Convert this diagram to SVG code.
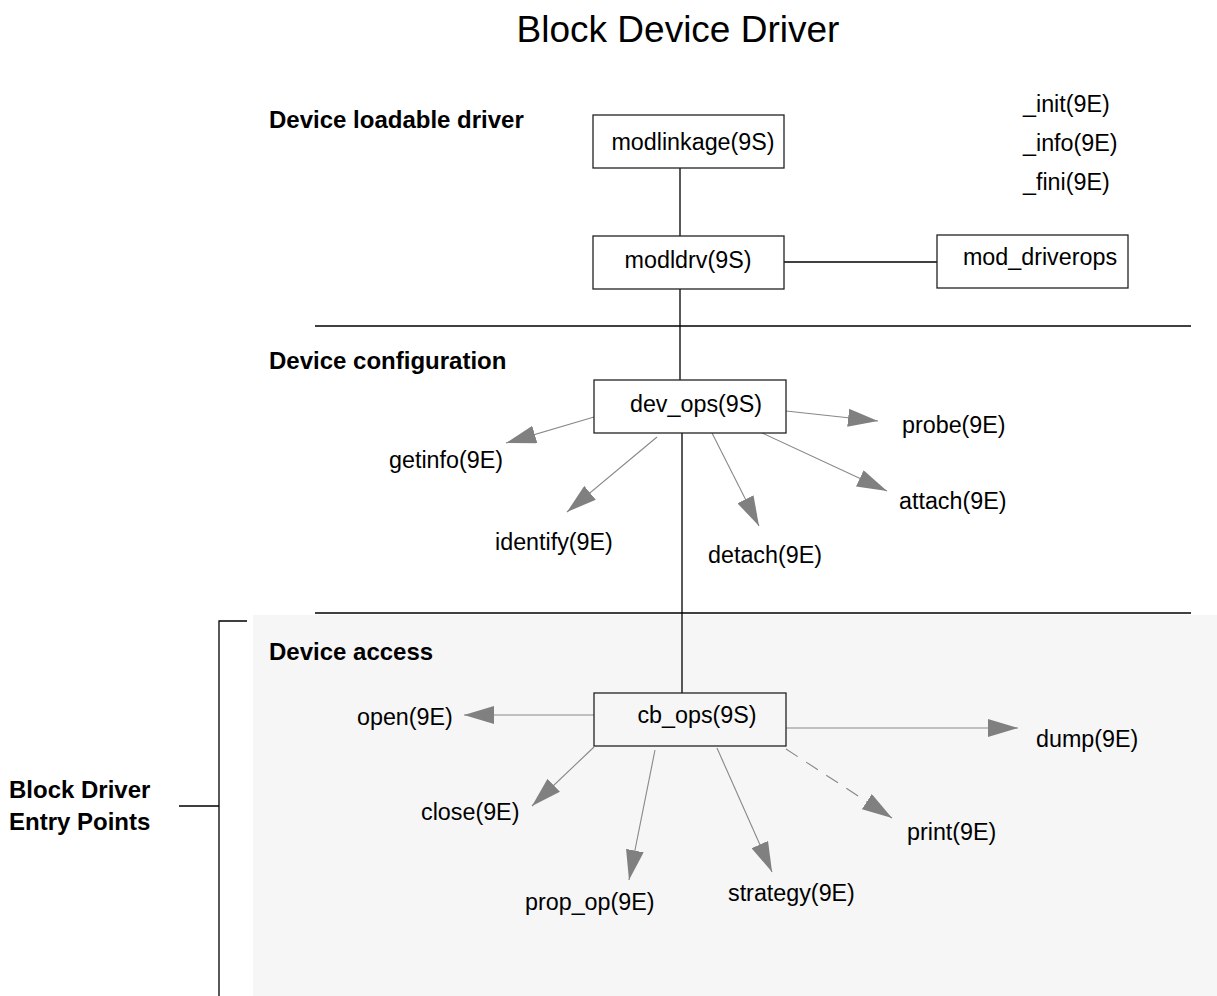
<svg xmlns="http://www.w3.org/2000/svg" width="1217" height="996" viewBox="0 0 1217 996">
<style>
text{font-family:"Liberation Sans",Arial,Helvetica,sans-serif;fill:#000}
.t{font-size:23.3px}
.b{font-size:24px;font-weight:bold}
.box{fill:#fff;stroke:#222;stroke-width:1.3}
.cbox{fill:#f6f6f6;stroke:#222;stroke-width:1.3}
.ln{stroke:#000;stroke-width:1.3;fill:none}
.ar{stroke:#888;stroke-width:1.1;fill:none}
.dash{stroke-dasharray:14 10}
</style>
<defs>
<marker id="ah" viewBox="0 0 30 18" refX="30" refY="9" markerWidth="30" markerHeight="18" markerUnits="userSpaceOnUse" orient="auto">
<path d="M0,0 L30,9 L0,18 Z" fill="#808080"/>
</marker>
</defs>
<rect width="1217" height="996" fill="#fff"/>
<rect x="253" y="615" width="964" height="381" fill="#f6f6f6"/>
<text class="t" x="678" y="42" text-anchor="middle" style="font-size:37px">Block Device Driver</text>
<g id="section-labels">
<text class="b" x="269" y="128">Device loadable driver</text>
<text class="b" x="269" y="369">Device configuration</text>
<text class="b" x="269" y="660">Device access</text>
</g>
<g id="separators">
<line class="ln" x1="315" y1="326" x2="1191" y2="326"/>
<line class="ln" x1="315" y1="613" x2="1191" y2="613"/>
</g>
<g id="bracket">
<path class="ln" d="M247,621 H219 V996 M179,806 H219"/>
<text class="b" x="9" y="798">Block Driver</text>
<text class="b" x="9" y="830">Entry Points</text>
</g>
<g id="connectors">
<line class="ln" x1="680" y1="168" x2="680" y2="236"/>
<line class="ln" x1="784" y1="262" x2="937" y2="262"/>
<line class="ln" x1="680" y1="289" x2="680" y2="380"/>
<line class="ln" x1="682" y1="433" x2="682" y2="693"/>
<line class="ar" x1="594" y1="417" x2="506" y2="443" marker-end="url(#ah)"/>
<line class="ar" x1="657" y1="437" x2="567" y2="512" marker-end="url(#ah)"/>
<line class="ar" x1="712" y1="433" x2="759" y2="526" marker-end="url(#ah)"/>
<line class="ar" x1="762" y1="433" x2="887" y2="491" marker-end="url(#ah)"/>
<line class="ar" x1="786" y1="411" x2="878" y2="421" marker-end="url(#ah)"/>
<line class="ar" x1="594" y1="715" x2="464" y2="715" marker-end="url(#ah)"/>
<line class="ar" x1="594" y1="747" x2="532" y2="806" marker-end="url(#ah)"/>
<line class="ar" x1="655" y1="750" x2="629" y2="880" marker-end="url(#ah)"/>
<line class="ar" x1="717" y1="748" x2="772" y2="872" marker-end="url(#ah)"/>
<line class="ar dash" x1="786" y1="749" x2="892" y2="818" marker-end="url(#ah)"/>
<line class="ar" x1="786" y1="728" x2="1018" y2="728" marker-end="url(#ah)"/>
</g>
<g id="modlinkage">
<rect class="box" x="593" y="115" width="191" height="53"/>
<text class="t" x="693" y="150" text-anchor="middle">modlinkage(9S)</text>
</g>
<g id="modldrv">
<rect class="box" x="593" y="236" width="191" height="53"/>
<text class="t" x="688" y="268" text-anchor="middle">modldrv(9S)</text>
</g>
<g id="mod_driverops">
<rect class="box" x="937" y="235" width="191" height="53"/>
<text class="t" x="1040" y="265" text-anchor="middle">mod_driverops</text>
</g>
<g id="mod-entry-points">
<text class="t" x="1023" y="112">_init(9E)</text>
<text class="t" x="1023" y="151">_info(9E)</text>
<text class="t" x="1023" y="190">_fini(9E)</text>
</g>
<g id="dev_ops">
<rect class="box" x="594" y="380" width="192" height="53"/>
<text class="t" x="696" y="412" text-anchor="middle">dev_ops(9S)</text>
</g>
<g id="dev-entry-points">
<text class="t" x="389" y="468">getinfo(9E)</text>
<text class="t" x="495" y="550">identify(9E)</text>
<text class="t" x="708" y="563">detach(9E)</text>
<text class="t" x="902" y="433">probe(9E)</text>
<text class="t" x="899" y="509">attach(9E)</text>
</g>
<g id="cb_ops">
<rect class="cbox" x="594" y="693" width="192" height="53"/>
<text class="t" x="697" y="723" text-anchor="middle">cb_ops(9S)</text>
</g>
<g id="cb-entry-points">
<text class="t" x="357" y="725">open(9E)</text>
<text class="t" x="421" y="820">close(9E)</text>
<text class="t" x="525" y="910">prop_op(9E)</text>
<text class="t" x="728" y="901">strategy(9E)</text>
<text class="t" x="907" y="840">print(9E)</text>
<text class="t" x="1036" y="747">dump(9E)</text>
</g>
</svg>
